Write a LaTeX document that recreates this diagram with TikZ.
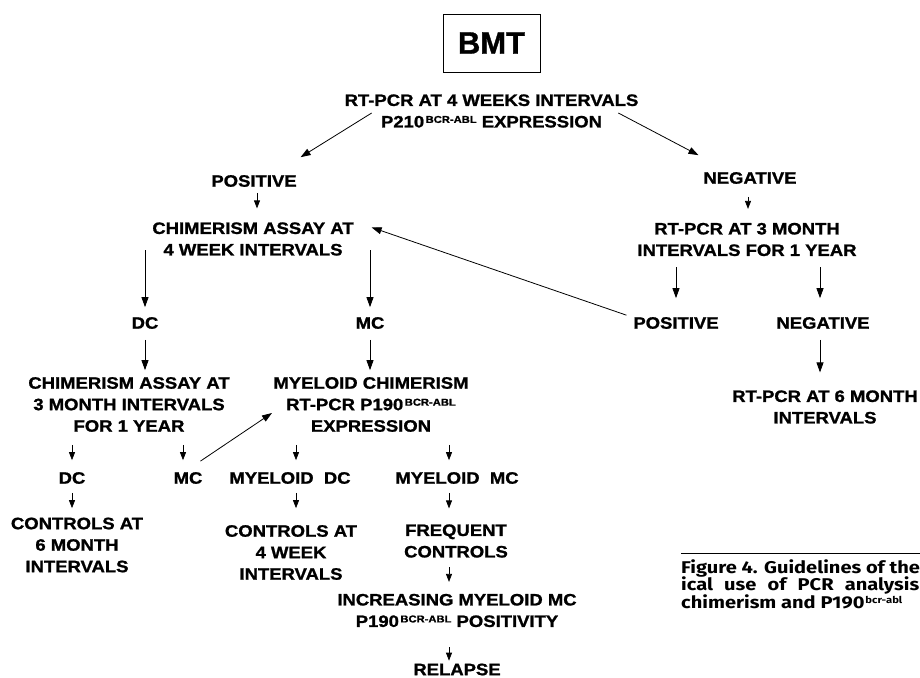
\documentclass[tikz,border=0pt]{standalone}
\usepackage{fontspec}
\setmainfont{Liberation Sans}
\newfontfamily\flowfont{Liberation Sans}[FakeStretch=1.12,FakeBold=1.2]
\newfontfamily\bmtfont{Liberation Sans}[FakeBold=1]
\newfontfamily\capfont{Fira Sans}[FakeStretch=1.18]
\usetikzlibrary{arrows.meta,positioning}
\newcommand\bcrabl{\kern1.5pt\raisebox{4.5pt}{\fontsize{10}{10}\selectfont BCR-ABL}}
\newcommand\bcrablsmall{\kern1pt\raisebox{5pt}{\fontsize{9.5}{9.5}\selectfont bcr-abl}}

\begin{document}
\begin{tikzpicture}[x=1pt,y=-1pt,
    % text of the chart
    txt/.style={align=center,inner sep=0pt,outer sep=0pt,
      font=\flowfont\bfseries\fontsize{16.5}{21.5}\selectfont},
    bmtbox/.style={draw,line width=0.9pt,minimum width=97pt,minimum height=58pt,
      font=\bmtfont\bfseries\fontsize{31}{31}\selectfont},
    capt/.style={inner sep=0pt,anchor=base west,
      font=\capfont\bfseries\fontsize{17}{17}\selectfont},
    % arrows
    flow/.style={-{Triangle[length=8pt,width=6pt]},line width=0.7pt},
    longflow/.style={-{Triangle[length=10pt,width=7pt]},line width=0.8pt}]
\useasboundingbox (0,0) rectangle (920,677);

\node[bmtbox] (bmt) at (491.5,43) {BMT};
\node[txt] (rt4) at (491.5,111) {RT-PCR AT 4 WEEKS INTERVALS\\P210\bcrabl{} EXPRESSION};
\node[txt] (pos1) at (254,181) {POSITIVE};
\node[txt] (neg1) at (750,178) {NEGATIVE};
\node[txt] (chim4) at (253,239) {CHIMERISM ASSAY AT\\4 WEEK INTERVALS};
\node[txt] (rt3) at (747,239.5) {RT-PCR AT 3 MONTH\\INTERVALS FOR 1 YEAR};
\node[txt] (dc1) at (145,323) {DC};
\node[txt] (mc1) at (370,323) {MC};
\node[txt] (pos2) at (676,323) {POSITIVE};
\node[txt] (neg2) at (823,323) {NEGATIVE};
\node[txt] (rt6) at (825,407) {RT-PCR AT 6 MONTH\\INTERVALS};
\node[txt] (chim3) at (129,404.5) {CHIMERISM ASSAY AT\\3 MONTH INTERVALS\\FOR 1 YEAR};
\node[txt] (myel) at (371,404.5) {MYELOID CHIMERISM\\RT-PCR P190\bcrabl\\EXPRESSION};
\node[txt] (dc2) at (72,478) {DC};
\node[txt] (mc2) at (188,478) {MC};
\node[txt] (myeldc) at (290,478) {MYELOID\ \ DC};
\node[txt] (myelmc) at (457,478) {MYELOID\ \ MC};
\node[txt] (ctl6) at (77,545) {CONTROLS AT\\6 MONTH\\INTERVALS};
\node[txt] (ctl4) at (291,552.5) {CONTROLS AT\\4 WEEK\\INTERVALS};
\node[txt] (freq) at (456,541) {FREQUENT\\CONTROLS};
\node[txt] (incr) at (457,610.5) {INCREASING MYELOID MC\\P190\bcrabl{} POSITIVITY};
\node[txt] (relapse) at (457,669.5) {RELAPSE};

% first split
\draw[longflow] ([xshift=27pt,yshift=-2pt]rt4.west) -- ([xshift=4pt,yshift=18pt]pos1.north east);
\draw[longflow] ([xshift=-20pt,yshift=-2pt]rt4.east) -- ([xshift=-5pt,yshift=17pt]neg1.north west);
\draw[flow,shorten <=6pt,shorten >=14pt] ([xshift=3pt]pos1.south) -- ([xshift=4pt]chim4.north);
\draw[flow,shorten <=13pt,shorten >=14pt] ([xshift=-2pt]neg1.south) -- ([xshift=1pt]rt3.north);

% chimerism branch
\draw[longflow,shorten <=11pt,shorten >=10pt] (dc1.north |- chim4.center) -- (dc1.north);
\draw[longflow,shorten <=11pt,shorten >=10pt] (mc1.north |- chim4.center) -- (mc1.north);
\draw[longflow,shorten <=11pt,shorten >=7pt] (dc1.south) -- (chim3.north -| dc1.south);
\draw[longflow,shorten <=11pt,shorten >=7pt] (mc1.south) -- (myel.north -| mc1.south);

% negative branch
\draw[longflow,shorten <=11pt,shorten >=19pt] (pos2.north |- rt3.south) -- (pos2.north);
\draw[longflow,shorten <=11pt,shorten >=19pt] ([xshift=-3pt]neg2.north |- rt3.south) -- ([xshift=-3pt]neg2.north);
\draw[longflow,shorten <=11pt,shorten >=18pt] ([xshift=-3pt]neg2.south) -- ([xshift=-3pt]rt6.north -| neg2.south);
\draw[longflow] ([xshift=-7pt,yshift=2pt]pos2.north west) -- ([xshift=18pt,yshift=-5pt]chim4.north east);

% lower levels
\draw[flow,shorten <=13pt,shorten >=12pt] (chim3.south -| dc2.north) -- (dc2.north);
\draw[flow,shorten <=13pt,shorten >=12pt] ([xshift=-5pt]chim3.south -| mc2.north) -- ([xshift=-5pt]mc2.north);
\draw[longflow] ([xshift=-2pt,yshift=11pt]mc2.north east) -- ([xshift=-1.5pt,yshift=-8.5pt]myel.west);
\draw[flow,shorten <=13pt,shorten >=12pt] ([xshift=6pt]myel.south -| myeldc.north) -- ([xshift=6pt]myeldc.north);
\draw[flow,shorten <=13pt,shorten >=12pt] ([xshift=-8pt]myel.south -| myelmc.north) -- ([xshift=-8pt]myelmc.north);
\draw[flow,shorten <=9pt,shorten >=9.5pt] (dc2.south) -- (ctl6.north -| dc2.south);
\draw[flow,shorten <=9pt,shorten >=17pt] ([xshift=6pt]myeldc.south) -- ([xshift=5pt]ctl4.north);
\draw[flow,shorten <=9pt,shorten >=16pt] ([xshift=-8pt]myelmc.south) -- ([xshift=-7pt]freq.north);
\draw[flow,shorten <=9.5pt,shorten >=12pt] ([xshift=-7pt]freq.south) -- ([xshift=-8pt]incr.north);
\draw[flow,shorten <=20pt,shorten >=3pt] ([xshift=-8pt]incr.south) -- ([xshift=-8pt]relapse.north);

% caption
\draw[line width=0.8pt] (681,553) -- (920,553);
\node[capt] (cap1) at (681,573) {Figure 4. Guidelines of the};
\node[capt] (cap2) at (681,590.5) {\makebox[238pt][s]{ical use of PCR analysis}};
\node[capt] (cap3) at (681,608) {chimerism and P190\bcrablsmall};
\end{tikzpicture}
\end{document}
